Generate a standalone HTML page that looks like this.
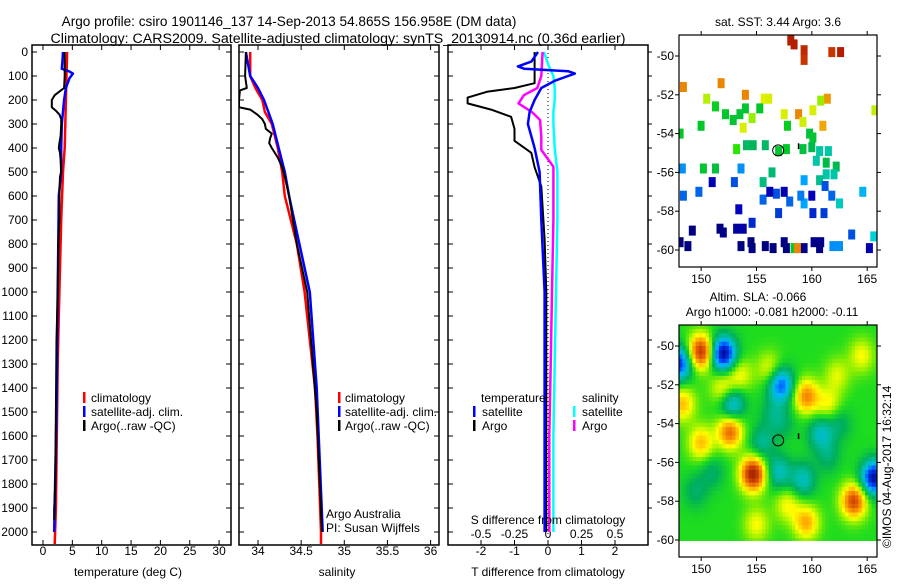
<!DOCTYPE html>
<html><head><meta charset="utf-8">
<style>
html,body{margin:0;padding:0;background:#fff;}
svg text{font-family:"Liberation Sans",sans-serif;fill:#000;}
</style></head>
<body>
<svg id="fig" width="900" height="580" viewBox="0 0 900 580" xmlns="http://www.w3.org/2000/svg">
<rect width="900" height="580" fill="#fff"/>
<text x="289" y="26" font-size="13.6" text-anchor="middle">Argo profile: csiro 1901146_137 14-Sep-2013 54.865S 156.958E (DM data)</text>
<text x="338" y="43" font-size="14.2" text-anchor="middle">Climatology: CARS2009. Satellite-adjusted climatology: synTS_20130914.nc (0.36d earlier)</text>
<g id="g"></g>
</svg>
<script>
// ---------- data ----------
const depthTicks=[0,100,200,300,400,500,600,700,800,900,1000,1100,1200,1300,1400,1500,1600,1700,1800,1900,2000];
const tempTicks=[0,5,10,15,20,25,30];
const salTicks=[34,34.5,35,35.5,36];
const tdiffTicks=[-2,-1,0,1,2];
const sdiffTicks=[-0.5,-0.25,0,0.25,0.5];
const sdiffTickLabels=["-0.5","-0.25","0","0.25","0.5"];

const tClimDepth=[0,100,200,300,400,500,700,900,1100,1300,1500,1700,1900,2050];
const tClimVal=[4.1,4.0,3.9,3.8,3.7,3.4,3.1,2.9,2.7,2.5,2.4,2.3,2.2,2.0];
const tSatDepth=[0,40,70,80,90,110,150,200,300,400,500,600,900,1000,1500,2000];
const tSatVal=[3.4,3.3,3.2,4.4,5.1,4.5,3.9,3.6,3.2,3.1,3.1,2.7,2.55,2.5,2.3,1.9];
const tArgoDepth=[0,100,150,165,180,200,230,245,260,280,300,350,380,400,420,450,500,520,600,700,800,1000,1200,1500,1800,1900,1950];
const tArgoVal=[3.7,3.7,3.6,2.8,2.0,1.5,1.5,2.2,2.8,3.1,3.1,3.0,2.8,2.7,2.9,3.0,3.1,2.9,2.8,2.8,2.6,2.5,2.3,2.2,2.1,1.9,1.9];

const sClimDepth=[0,100,150,200,250,300,400,500,600,700,800,1000,1400,1600,2000,2050];
const sClimVal=[33.91,33.91,33.97,34.05,34.08,34.16,34.23,34.28,34.31,34.38,34.45,34.54,34.66,34.69,34.73,34.73];
const sSatDepth=[0,100,150,200,250,300,400,500,600,700,800,1000,1400,2000];
const sSatVal=[33.86,33.91,34.0,34.07,34.12,34.17,34.24,34.31,34.36,34.42,34.48,34.6,34.68,34.75];
const sArgoDepth=[0,100,150,160,200,230,240,260,280,300,320,340,360,380,400,440,480,520,600,800,1000,1500,2000];
const sArgoVal=[33.86,33.85,33.87,33.79,33.78,33.78,33.91,33.99,34.05,34.08,34.09,34.16,34.14,34.13,34.16,34.23,34.28,34.31,34.36,34.45,34.57,34.68,34.74];

const dtArgoDepth=[0,130,150,165,190,214,240,270,320,370,420,480,560,780,1000,2000];
const dtArgoVal=[-0.4,-0.4,-1.0,-1.8,-2.4,-2.4,-1.7,-1.1,-1.0,-1.0,-0.5,-0.4,-0.2,-0.1,-0.05,-0.05];
const dtSatDepth=[0,40,60,70,80,90,100,120,150,200,250,300,400,500,700,1000,2000];
const dtSatVal=[-0.3,-0.5,-0.9,-0.7,0.6,0.8,0.6,0.2,-0.2,-0.4,-0.55,-0.6,-0.4,-0.25,-0.2,-0.1,-0.1];
const dsArgoDepth=[0,100,150,180,214,250,283,350,408,478,700,1000,1300,1600,2000];
const dsArgoVal=[-0.04,-0.05,-0.08,-0.18,-0.22,-0.12,-0.06,-0.05,-0.05,0.04,0.04,0.03,0.02,0.01,0.01];
const dsSatDepth=[0,50,100,150,200,250,300,400,500,700,1000,1300,1600,2000];
const dsSatVal=[-0.03,0.0,0.04,0.05,0.05,0.04,0.04,0.05,0.07,0.07,0.06,0.05,0.04,0.04];

// SST map points: lon, lat, temperature
const sstLon=[158.1,158.4,159.3,159.3,161.8,162.6,148.4,151.8,154.0,161.4,161.0,158.8,150.5,155.7,156.1,157.5,159.2,153.8,160.1,160.8,165.7,154.6,151.3,150.0,152.2,152.9,153.5,154.0,155.3,157.8,159.8,160.1,148.1,153.2,154.1,154.7,155.8,157.0,157.7,159.2,160.0,150.2,151.3,161.3,162.2,156.4,160.7,161.5,160.4,161.3,162.0,160.7,155.6,162.5,148.3,153.6,159.3,164.6,159.3,162.5,161.9,165.6,153.0,149.8,148.4,155.6,156.8,161.2,161.8,157.0,160.1,161.1,154.6,163.6,158.0,159.0,151.0,156.2,157.5,160.0,153.4,152.0,153.2,153.8,149.2,151.7,148.1,148.8,153.6,154.5,154.6,155.8,156.5,157.5,157.7,159.3,160.2,160.8,160.7,165.2,158.4,158.7];
const sstLat=[-49.2,-49.4,-49.7,-50.2,-49.8,-49.8,-51.6,-51.4,-52.0,-52.2,-53.6,-53.0,-52.2,-52.2,-52.2,-53.0,-53.4,-53.7,-52.8,-52.3,-52.8,-53.2,-52.6,-53.6,-53.0,-53.3,-53.0,-52.7,-52.7,-53.6,-54.0,-54.2,-54.0,-54.8,-54.6,-54.6,-54.6,-54.9,-54.8,-54.8,-54.7,-55.8,-55.8,-55.5,-55.7,-56.0,-54.9,-54.9,-55.4,-56.1,-56.1,-56.4,-56.5,-57.6,-55.8,-55.8,-56.4,-57.0,-57.6,-59.8,-59.8,-59.3,-56.5,-57.0,-57.2,-57.4,-57.1,-56.7,-57.2,-58.1,-58.1,-58.1,-58.6,-59.2,-57.5,-57.2,-56.5,-57.0,-57.0,-57.2,-57.9,-59.1,-58.9,-58.9,-59.0,-58.9,-59.6,-59.8,-59.8,-59.6,-59.9,-59.8,-59.9,-59.6,-59.9,-59.9,-59.6,-59.6,-59.9,-59.9,-59.9,-59.9];
const sstVal=[8,8,7.8,7.6,7.6,8.2,6.5,6.5,6.5,6.3,6.2,6.5,5.3,5.7,5.6,5.6,5.5,5.6,5.6,5.2,5.4,5.2,4.4,4.3,4.3,4.2,4.2,4.2,4.3,4.4,4.1,4.2,4.3,4.8,3.7,3.8,3.7,4.2,4.3,4.1,3.9,4.2,4.1,4.0,3.9,3.6,3.3,3.3,3.3,3.3,3.3,3.4,3.5,3.2,2.7,2.7,2.8,2.9,2.8,2.7,2.7,3.1,2.4,2.5,2.5,2.5,2.4,2.4,2.5,2.3,2.2,2.3,2.2,2.4,2.5,2.6,1.9,1.9,1.9,2.0,2.0,1.6,1.8,1.8,1.5,1.5,1.5,1.5,1.5,1.5,1.5,1.5,1.5,1.5,1.5,1.6,1.6,1.6,1.5,1.9,4.3,6.5];

// SLA map anomaly blobs: lon, lat, amplitude
const slaLon=[150.0,152.0,148.0,157.2,159.5,161.5,152.8,152.6,150.0,154.7,157.0,159.2,165.6,163.8,159.5,148.3,155.5,160.8,156.5,156.2,162.3,155.0,153.5,157.8,161.5,149.5,152.0,164.5,151.0,157.5,162.5];
const slaLat=[-50.3,-50.4,-50.9,-52.0,-52.6,-53.0,-53.0,-54.4,-55.0,-56.6,-56.5,-56.9,-56.8,-58.0,-59.1,-53.0,-55.0,-54.5,-53.5,-51.2,-51.5,-59.2,-51.5,-58.2,-55.7,-57.5,-52.2,-50.5,-56.5,-54.0,-54.0];
const slaAmp=[0.9,-1.05,-0.85,-0.75,0.6,0.3,-0.55,0.7,0.45,1.0,-0.4,-0.4,-1.0,0.8,0.5,0.45,-0.3,-0.4,-0.2,0.3,0.25,0.3,0.3,0.3,-0.2,-0.2,0.35,0.3,-0.2,-0.15,-0.2];
const slaBase=0.05;
const sstTicksLon=[150,155,160,165];
const mapTicksLat=[-50,-52,-54,-56,-58,-60];

// ---------- helpers ----------
const NS="http://www.w3.org/2000/svg";
const G=document.getElementById('g');
function mk(tag,attrs,parent){const e=document.createElementNS(NS,tag);for(const k in attrs)e.setAttribute(k,attrs[k]);(parent||G).appendChild(e);return e;}
const Y0=52,PXM=0.24;
function yD(d){return Y0+d*PXM;}
const PT=45,PB=545;
const xT=v=>43+v*5.87;
const xS=v=>258+(v-34)*86.3;
const xDT=v=>548+v*33.5;
const xDS=v=>548+v*134;

function panel(name,x0,x1){
  const r=mk('rect',{x:x0,y:PT,width:x1-x0,height:PB-PT,fill:'none',stroke:'#000','stroke-width':1.5});
  
  
}
function ticksY(x0,x1,outRight){
  depthTicks.forEach(d=>{
    const y=yD(d);
    mk('line',{x1:x0,y1:y,x2:x0+5,y2:y,stroke:'#000'});
    if(outRight) mk('line',{x1:x1,y1:y,x2:x1+4,y2:y,stroke:'#000'});
    else mk('line',{x1:x1,y1:y,x2:x1-5,y2:y,stroke:'#000'});
  });
}
function ticksX(vals,fx,labels,ly,name){
  vals.forEach((v,i)=>{
    const x=fx(v);
    mk('line',{x1:x,y1:PT,x2:x,y2:PT+5,stroke:'#000'});
    mk('line',{x1:x,y1:PB,x2:x,y2:PB-5,stroke:'#000'});
    if(labels){const t=mk('text',{x:x,y:ly,'font-size':12,'text-anchor':'middle'});t.textContent=labels[i];
      
      }
  });
}
function txt(s,x,y,size,anchor,name){const t=mk('text',{x:x,y:y,'font-size':size,'text-anchor':anchor||'start'});t.textContent=s;
  
  return t;}
function legMark(x,y,color){mk('rect',{x:x,y:y-10,width:2.5,height:11,fill:color});}
function lineIn(g,depths,vals,fx,color,w,name){
  const pts=depths.map((d,i)=>fx(vals[i]).toFixed(1)+','+yD(d).toFixed(1)).join(' ');
  const p=mk('polyline',{points:pts,fill:'none',stroke:color,'stroke-width':w,'stroke-linejoin':'round'},g);
  
  
}

const clip1=mk('clipPath',{id:'c1'});mk('rect',{x:32,y:PT,width:199,height:PB-PT},clip1);
const clip2=mk('clipPath',{id:'c2'});mk('rect',{x:239,y:PT,width:200,height:PB-PT},clip2);
const clip3=mk('clipPath',{id:'c3'});mk('rect',{x:448,y:PT,width:200,height:PB-PT},clip3);

// ---------- panel 1: temperature ----------
panel('temperature-panel',32,231);
ticksY(32,231,false);
ticksX(tempTicks,xT,tempTicks.map(String),555,'temperature');
depthTicks.forEach(d=>txt(String(d),28,yD(d)+4,12,'end','depth-tick-label'));
let g1=mk('g',{'clip-path':'url(#c1)'});
lineIn(g1,tClimDepth,tClimVal,xT,'#f00',2.5,'temperature-climatology-line');
lineIn(g1,tSatDepth,tSatVal,xT,'#00f',2.5,'temperature-satellite-line');
lineIn(g1,tArgoDepth,tArgoVal,xT,'#000',2,'temperature-argo-line');
txt('temperature (deg C)',128,576,12,'middle','temperature-axis-title');
legMark(83,402,'#f00');txt('climatology',91,402,12,'start','legend-climatology');
legMark(83,416,'#00f');txt('satellite-adj. clim.',91,416,12,'start','legend-satellite');
legMark(83,430,'#000');txt('Argo(..raw -QC)',91,430,12,'start','legend-argo');

// ---------- panel 2: salinity ----------
panel('salinity-panel',239,439);
ticksY(239,439,false);
ticksX(salTicks,xS,salTicks.map(String),555,'salinity');
let g2=mk('g',{'clip-path':'url(#c2)'});
lineIn(g2,sClimDepth,sClimVal,xS,'#f00',2.5,'salinity-climatology-line');
lineIn(g2,sSatDepth,sSatVal,xS,'#00f',2.5,'salinity-satellite-line');
lineIn(g2,sArgoDepth,sArgoVal,xS,'#000',2,'salinity-argo-line');
txt('salinity',337,576,12,'middle','salinity-axis-title');
legMark(338,402,'#f00');txt('climatology',345,402,12,'start','legend-climatology-2');
legMark(338,416,'#00f');txt('satellite-adj. clim.',345,416,12,'start','legend-satellite-2');
legMark(338,430,'#000');txt('Argo(..raw -QC)',345,430,12,'start','legend-argo-2');
txt('Argo Australia',326,518,12,'start','argo-australia-label');
txt('PI: Susan Wijffels',326,532,12,'start','pi-label');

// ---------- panel 3: differences ----------
panel('difference-panel',448,648);
ticksY(448,648,true);
ticksX(tdiffTicks,xDT,tdiffTicks.map(String),555,'t-diff');
sdiffTicks.forEach((v,i)=>txt(sdiffTickLabels[i],xDS(v),538,12,'middle','s-diff-tick-label'));
mk('line',{x1:548,y1:PT,x2:548,y2:PB,stroke:'#000','stroke-dasharray':'1,3'});
let g3=mk('g',{'clip-path':'url(#c3)'});
lineIn(g3,dsSatDepth,dsSatVal,xDS,'#0ff',2.5,'s-diff-satellite-line');
lineIn(g3,dsArgoDepth,dsArgoVal,xDS,'#f0f',2.5,'s-diff-argo-line');
lineIn(g3,dtArgoDepth,dtArgoVal,xDT,'#000',2,'t-diff-argo-line');
lineIn(g3,dtSatDepth,dtSatVal,xDT,'#00f',2.5,'t-diff-satellite-line');
txt('S difference from climatology',548,524,12,'middle','s-diff-axis-title');
txt('T difference from climatology',548,576,12,'middle','t-diff-axis-title');
txt('temperature',481,402,12,'start','legend-temperature-header');
txt('salinity',582,402,12,'start','legend-salinity-header');
legMark(473,416,'#00f');txt('satellite',482,416,12,'start','legend-t-satellite');
legMark(473,430,'#000');txt('Argo',482,430,12,'start','legend-t-argo');
legMark(573,416,'#0ff');txt('satellite',582,416,12,'start','legend-s-satellite');
legMark(573,430,'#f0f');txt('Argo',582,430,12,'start','legend-s-argo');

// ---------- maps ----------
const MX0=679,MX1=877,LON0=148.0,PXLON=11.07;
const lonX=l=>MX0+(l-LON0)*PXLON;
function mapFrame(top,bot,lat50y,name){
  const latY=la=>lat50y+(-50-la)*19.4;
  mapTicksLat.forEach(la=>{const y=latY(la);
    mk('line',{x1:MX0,y1:y,x2:MX0-4,y2:y,stroke:'#000'});
    mk('line',{x1:MX1,y1:y,x2:MX1+4,y2:y,stroke:'#000'});
    txt(String(la),674,y+4,12,'end',name+'-lat-label');});
  sstTicksLon.forEach(l=>{const x=lonX(l);
    mk('line',{x1:x,y1:top,x2:x,y2:top-4,stroke:'#000'});
    mk('line',{x1:x,y1:bot,x2:x,y2:bot+4,stroke:'#000'});
    txt(String(l),x,bot+16,12,'middle',name+'-lon-label');});
  const r=mk('rect',{x:MX0,y:top,width:MX1-MX0,height:bot-top,fill:'none',stroke:'#000','stroke-width':1.2});
  
  
  return latY;
}
function interp(stops,cols,v){
  if(v<=stops[0])return 'rgb('+cols[0].join(',')+')';
  for(let i=1;i<stops.length;i++){if(v<=stops[i]){const t=(v-stops[i-1])/(stops[i]-stops[i-1]);
    const a=cols[i-1],b=cols[i];return 'rgb('+a.map((c,k)=>Math.round(c+(b[k]-c)*t)).join(',')+')';}}
  const c=cols[cols.length-1];return 'rgb('+c.join(',')+')';
}
const sstStops=[1.5,2.0,2.4,2.8,3.1,3.4,3.8,4.3,4.8,5.3,5.8,6.3,7.0,8.0];
const sstCols=[[0,0,128],[0,0,190],[0,80,225],[0,165,255],[0,210,220],[0,190,140],[0,180,90],[0,200,40],[40,230,0],[180,240,0],[240,240,0],[240,150,0],[225,90,0],[180,30,0]];
const slaStops=[-1,-0.7,-0.5,-0.3,-0.12,0.05,0.2,0.35,0.55,0.8,1.0];
const slaCols=[[0,0,140],[0,70,255],[0,180,255],[0,190,170],[0,175,90],[30,220,30],[150,240,0],[255,255,0],[255,170,0],[220,80,0],[170,40,0]];

// map 1 SST
const latY1=la=>56+(-50-la)*19.4;
const cm1=mk('clipPath',{id:'cm1'});mk('rect',{x:MX0,y:35,width:MX1-MX0,height:232},cm1);
const gm1=mk('g',{'clip-path':'url(#cm1)'});
sstLon.forEach((l,i)=>{
  const r=mk('rect',{x:(lonX(l)-3.5).toFixed(1),y:(latY1(sstLat[i])-5).toFixed(1),width:7,height:10,fill:interp(sstStops,sstCols,sstVal[i])},gm1);
  
  
});
mk('circle',{cx:lonX(156.958),cy:latY1(-54.865),r:5.5,fill:'none',stroke:'#000'},gm1);
mk('line',{x1:lonX(158.8),y1:latY1(-54.5),x2:lonX(158.8),y2:latY1(-54.8),stroke:'#000','stroke-width':1.5},gm1);
mapFrame(35,267,56,'sst-map');
txt('sat. SST: 3.44  Argo: 3.6',778,26,12,'middle','sst-map-title');

// map 2 SLA
const latY2=la=>346+(-50-la)*19.4;
const cm2=mk('clipPath',{id:'cm2'});mk('rect',{x:MX0,y:325,width:MX1-MX0,height:232},cm2);
const gm2=mk('g',{'clip-path':'url(#cm2)'});
const dLon=0.3,dLat=0.22;
for(let la=-48.9;la>-60.05;la-=dLat){
  for(let lo=LON0;lo<166;lo+=dLon){
    let v=slaBase;
    for(let k=0;k<slaLon.length;k++){const dx=(lo+dLon/2-slaLon[k])/0.8,dy=(la-dLat/2-slaLat[k])/0.62;v+=slaAmp[k]*Math.exp(-(dx*dx+dy*dy)/2);}
    const y=latY2(la),h=dLat*19.4+0.6;
    const yb=Math.min(y+h,latY2(-60.05));
    mk('rect',{x:lonX(lo).toFixed(1),y:y.toFixed(1),width:(dLon*PXLON+0.6).toFixed(1),height:Math.max(0,yb-y).toFixed(1),fill:interp(slaStops,slaCols,v)},gm2);
  }
}
mk('circle',{cx:lonX(156.958),cy:latY2(-54.865),r:5.5,fill:'none',stroke:'#000'},gm2);
mk('line',{x1:lonX(158.8),y1:latY2(-54.5),x2:lonX(158.8),y2:latY2(-54.8),stroke:'#000','stroke-width':1.5},gm2);
mapFrame(325,557,346,'sla-map');
txt('Altim. SLA: -0.066',758,301,12,'middle','sla-title-1');
txt('Argo h1000: -0.081 h2000: -0.11',772,316,12,'middle','sla-title-2');
const rot=txt('©IMOS 04-Aug-2017 16:32:14',0,0,12,'start','imos-credit');
rot.setAttribute('transform','translate(891,548) rotate(-90)');
</script>
</body></html>
